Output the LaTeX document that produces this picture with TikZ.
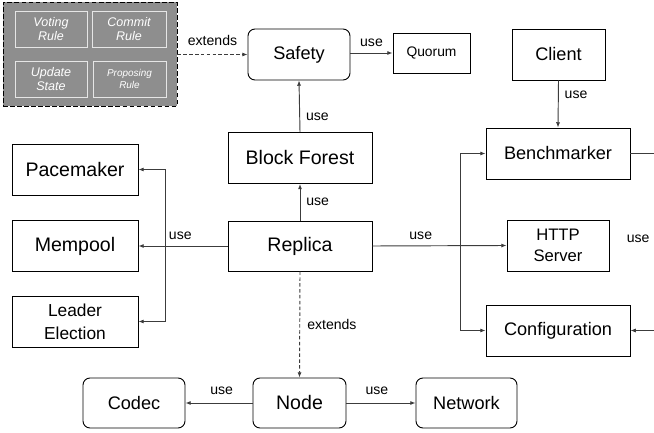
\documentclass[tikz,border=0pt]{standalone}
\usepackage{fontspec}
\setmainfont{Liberation Sans}
\usetikzlibrary{arrows.meta}

\definecolor{rulegray}{RGB}{142,142,142}
\definecolor{ruleline}{RGB}{230,230,230}
\definecolor{wire}{RGB}{60,60,60}

\tikzset{
  box/.style = {draw, line width = 0.8pt, inner sep = 0pt, align = center,
    minimum width = #1*0.03cm, minimum height = 51*0.03cm,
    font = \fontsize{15.5}{18.5}\selectfont},
  rbox/.style = {box = #1, rounded corners = 6pt},
  big/.style = {font = \fontsize{16.7}{20}\selectfont},
  rulebox/.style = {draw = ruleline, line width = 0.8pt, inner sep = 0pt, align = center,
    text = white, minimum width = #1*0.03cm, minimum height = 36*0.03cm,
    font = \fontsize{10.7}{12}\selectfont\itshape},
  lbl/.style = {font = \fontsize{12}{14}\selectfont, inner sep = 2pt},
  uses/.style = {draw = wire, line width = 0.8pt, -{Latex[length = 4.5pt, width = 3.5pt]}},
  extends/.style = {uses, dash pattern = on 3pt off 2pt}
}

\begin{document}
\begin{tikzpicture}[x = 0.03cm, y = -0.03cm]
            \clip (0, 0) rectangle (654, 433);

            % safety rules
            \node [draw, fill = rulegray, line width = 0.8pt, dash pattern = on 4pt off 2pt,
              minimum width = 174*0.03cm, minimum height = 104*0.03cm] (rules) at (90, 54) {};
            \node [rulebox = 72] (voting) at (51, 29) {Voting\\Rule};
            \node [rulebox = 74] (commit) at (129, 29) {Commit\\Rule};
            \node [rulebox = 72] (update) at (51, 79) {Update\\State};
            \node [rulebox = 73, font = \fontsize{8.5}{11}\selectfont\itshape] (proposing) at (129.5, 79) {Proposing\\Rule};

            % components
            \node [rbox = 102] (safety) at (299, 54.5) {Safety};
            \node [box = 77, minimum height = 40*0.03cm, font = \fontsize{11.8}{14}\selectfont] (quorum) at (431.5, 53) {Quorum};
            \node [box = 93] (client) at (558.5, 54.5) {Client};
            \node [box = 144, big] (forest) at (300, 158) {Block Forest};
            \node [box = 144] (benchmarker) at (558, 153.5) {Benchmarker};
            \node [box = 126, big] (pacemaker) at (75, 169.5) {Pacemaker};
            \node [box = 126, big] (mempool) at (75, 246) {Mempool};
            \node [box = 126, font = \fontsize{14.8}{19.5}\selectfont] (election) at (75, 321.5) {Leader\\Election};
            \node [box = 144, big, minimum height = 50*0.03cm] (replica) at (300, 246) {Replica};
            \node [box = 102, font = \fontsize{14.2}{17.8}\selectfont] (http) at (558, 245.5) {HTTP\\Server};
            \node [box = 144] (config) at (558, 330.5) {Configuration};
            \node [rbox = 102, minimum height = 50*0.03cm] (codec) at (134, 403) {Codec};
            \node [rbox = 93, big, minimum height = 50*0.03cm] (node) at (299.5, 403) {Node};
            \node [rbox = 101, minimum height = 50*0.03cm] (network) at (466.5, 403) {Network};

            % buses
            \coordinate (lbus) at (165, 246);
            \coordinate (rbus) at (460, 246);
            \coordinate (loopa) at (664, 153.5);
            \coordinate (loopb) at (664, 330.5);

            % connectors
            \draw [extends] (rules.east |- safety) -- node [lbl, above = 5pt] {extends} (safety.west);
            \draw [uses] (safety.east |- quorum) -- node [lbl, above = 3pt] {use} (quorum.west);
            \draw [uses] (forest.north) -- node [lbl, pos = 0.3, right = 3pt] {use} (safety.south);
            \draw [uses] (replica.north) -- node [lbl, right = 3pt] {use} (forest.south);
            \draw [uses] (client.south) -- node [lbl, pos = 0.3, right = 3pt] {use} (benchmarker.north);
            \draw [uses] (replica.west) -- node [lbl, pos = 0.53, above = 3pt] {use} (mempool.east);
            \draw [uses] (lbus) |- (pacemaker.east);
            \draw [uses] (lbus) |- (election.east);
            \draw [uses] (replica.east) -- node [lbl, pos = 0.36, above = 3pt] {use} (http.west);
            \draw [uses] (rbus) |- (benchmarker.west);
            \draw [uses] (rbus) |- (config.west);
            \draw [uses] (benchmarker.east) -- (loopa) -- node [lbl, pos = 0.48, left = 10pt] {use} (loopb) -- (config.east);
            \draw [extends] (replica.south) -- node [lbl, right = 4pt] {extends} (node.north);
            \draw [uses] (node.west) -- node [lbl, pos = 0.46, above = 5pt] {use} (codec.east);
            \draw [uses] (node.east) -- node [lbl, pos = 0.44, above = 5pt] {use} (network.west);
        \end{tikzpicture}
\end{document}
